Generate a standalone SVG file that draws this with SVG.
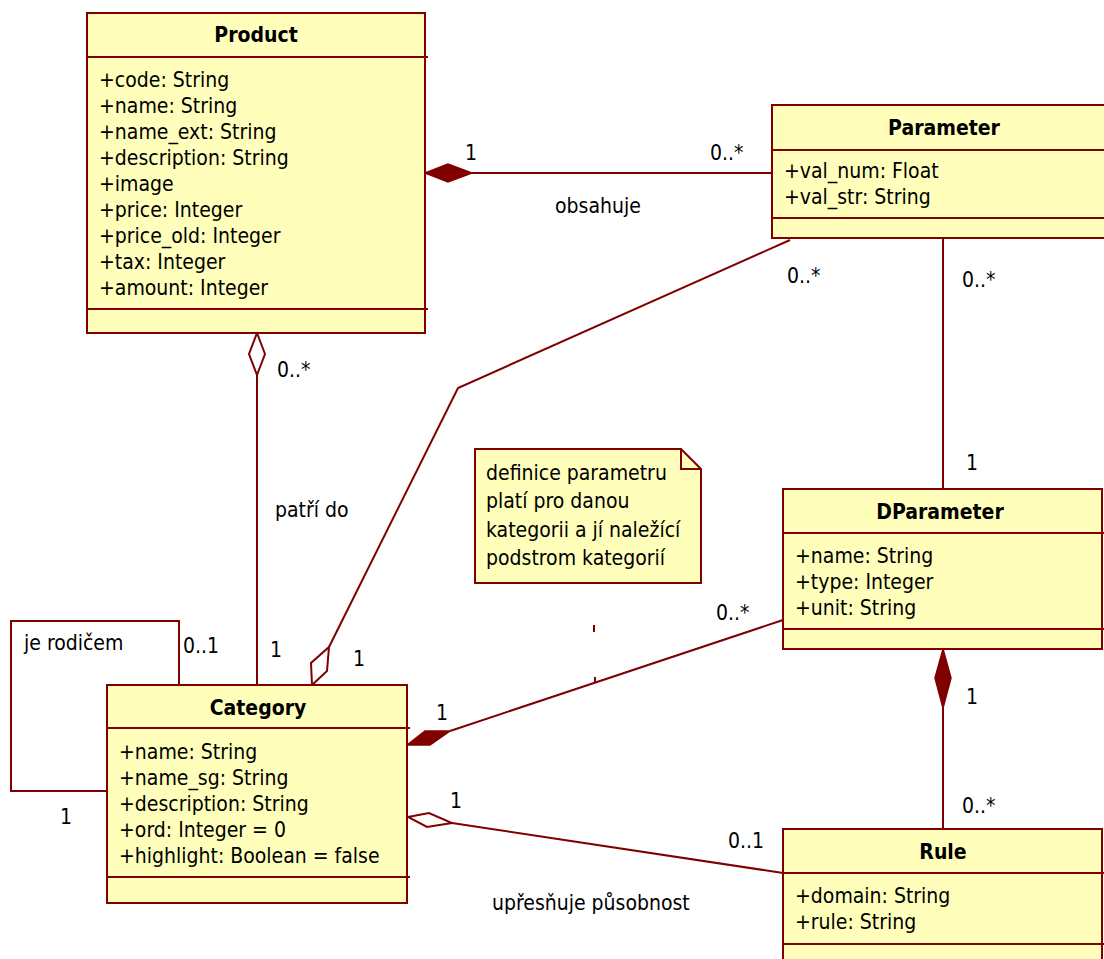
<svg xmlns="http://www.w3.org/2000/svg" width="1104" height="959" viewBox="0 0 1104 959">
  <style>
    .box { fill: #ffffbb; stroke: #800000; stroke-width: 2; }
    .div { stroke: #800000; stroke-width: 2; }
    .ln { fill: none; stroke: #800000; stroke-width: 2; }
    .fd { fill: #800000; stroke: #800000; stroke-width: 1.5; }
    .hd { fill: #ffffff; stroke: #800000; stroke-width: 2; }
    text { font-family: "DejaVu Sans Condensed", "DejaVu Sans", sans-serif; font-stretch: condensed; font-size: 21px; fill: #000; }
    .title { font-weight: bold; text-anchor: middle; }
  </style>

  <!-- connectors -->
  <g id="connectors">
    <!-- Product <>— Parameter (composition) -->
    <line class="ln" x1="472" y1="173" x2="772" y2="173"/>
    <polygon class="fd" points="425,173 448,164 472,173 448,182"/>
    <!-- Product <>— Category (aggregation) -->
    <line class="ln" x1="257" y1="375" x2="257" y2="685"/>
    <polygon class="hd" points="257,333 265,354 257,375 249,354"/>
    <!-- Parameter — Category (aggregation) -->
    <polyline class="ln" points="329,647 458,388 790,240"/>
    <polygon class="hd" points="312,685 311,663 329,647 327,671"/>
    <!-- Parameter — DParameter -->
    <line class="ln" x1="943" y1="238" x2="943" y2="489"/>
    <!-- DParameter — Category (composition) -->
    <line class="ln" x1="450" y1="731" x2="783" y2="620"/>
    <polygon class="fd" points="407,745 425,731 450,731 430,745"/>
    <!-- DParameter <>— Rule (composition) -->
    <line class="ln" x1="943" y1="708" x2="943" y2="829"/>
    <polygon class="fd" points="943,649 951,678 943,708 935,678"/>
    <!-- Category <>— Rule (aggregation) -->
    <line class="ln" x1="452" y1="823" x2="783" y2="873"/>
    <polygon class="hd" points="408,817 429,813 452,823 427,827"/>
    <!-- Category self-association -->
    <polyline class="ln" points="179,685 179,621 11,621 11,791 107,791"/>
    <!-- note anchor marks -->
    <line class="ln" x1="594" y1="625" x2="594" y2="632"/>
    <line class="ln" x1="595" y1="677" x2="595" y2="683"/>

    <!-- labels -->
    <text x="465" y="160">1</text>
    <text x="710" y="160">0..*</text>
    <text x="555" y="213">obsahuje</text>
    <text x="277" y="377">0..*</text>
    <text x="275" y="517">patří do</text>
    <text x="270" y="657">1</text>
    <text x="353" y="666">1</text>
    <text x="787" y="283">0..*</text>
    <text x="962" y="287">0..*</text>
    <text x="966" y="470">1</text>
    <text x="716" y="620">0..*</text>
    <text x="436" y="720">1</text>
    <text x="966" y="704">1</text>
    <text x="962" y="813">0..*</text>
    <text x="450" y="808">1</text>
    <text x="728" y="848">0..1</text>
    <text x="492" y="910">upřesňuje působnost</text>
    <text x="24" y="650">je rodičem</text>
    <text x="183" y="653">0..1</text>
    <text x="60" y="824">1</text>
  </g>

  <!-- Product -->
  <g id="product">
    <rect class="box" x="87" y="13" width="338" height="320"/>
    <line class="div" x1="87" y1="57" x2="428" y2="57"/>
    <line class="div" x1="87" y1="309" x2="428" y2="309"/>
    <text class="title" x="256" y="42">Product</text>
    <text x="99" y="87">+code: String</text>
    <text x="99" y="113">+name: String</text>
    <text x="99" y="139">+name_ext: String</text>
    <text x="99" y="165">+description: String</text>
    <text x="99" y="191">+image</text>
    <text x="99" y="217">+price: Integer</text>
    <text x="99" y="243">+price_old: Integer</text>
    <text x="99" y="269">+tax: Integer</text>
    <text x="99" y="295">+amount: Integer</text>
  </g>

  <!-- Parameter -->
  <g id="parameter">
    <rect class="box" x="772" y="105" width="340" height="133"/>
    <line class="div" x1="772" y1="150" x2="1112" y2="150"/>
    <line class="div" x1="772" y1="218" x2="1112" y2="218"/>
    <text class="title" x="944" y="135">Parameter</text>
    <text x="784" y="178">+val_num: Float</text>
    <text x="784" y="204">+val_str: String</text>
  </g>

  <!-- Note -->
  <g id="note">
    <path class="box" d="M475,449 H681 L701,469 V583 H475 Z"/>
    <path class="ln" d="M681,449 V469 H701"/>
    <text x="486" y="480">definice parametru</text>
    <text x="486" y="508">platí pro danou</text>
    <text x="486" y="537">kategorii a jí naležící</text>
    <text x="486" y="565">podstrom kategorií</text>
  </g>

  <!-- DParameter -->
  <g id="dparameter">
    <rect class="box" x="783" y="489" width="319" height="160"/>
    <line class="div" x1="783" y1="533" x2="1104" y2="533"/>
    <line class="div" x1="783" y1="629" x2="1104" y2="629"/>
    <text class="title" x="940" y="519">DParameter</text>
    <text x="795" y="563">+name: String</text>
    <text x="795" y="589">+type: Integer</text>
    <text x="795" y="615">+unit: String</text>
  </g>

  <!-- Category -->
  <g id="category">
    <rect class="box" x="107" y="685" width="300" height="218"/>
    <line class="div" x1="107" y1="728" x2="410" y2="728"/>
    <line class="div" x1="107" y1="877" x2="410" y2="877"/>
    <text class="title" x="258" y="715">Category</text>
    <text x="119" y="759">+name: String</text>
    <text x="119" y="785">+name_sg: String</text>
    <text x="119" y="811">+description: String</text>
    <text x="119" y="837">+ord: Integer = 0</text>
    <text x="119" y="863">+highlight: Boolean = false</text>
  </g>

  <!-- Rule -->
  <g id="rule">
    <rect class="box" x="783" y="829" width="319" height="140"/>
    <line class="div" x1="783" y1="873" x2="1104" y2="873"/>
    <line class="div" x1="783" y1="944" x2="1104" y2="944"/>
    <text class="title" x="943" y="859">Rule</text>
    <text x="795" y="903">+domain: String</text>
    <text x="795" y="929">+rule: String</text>
  </g>
</svg>
